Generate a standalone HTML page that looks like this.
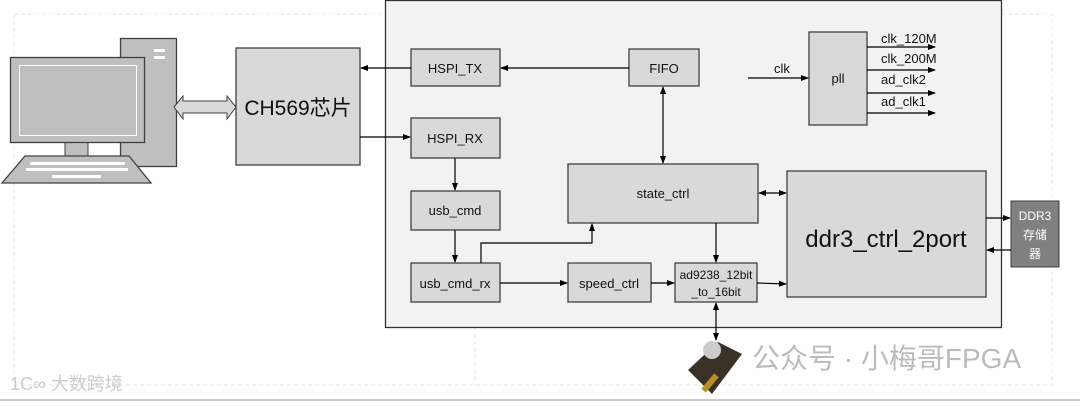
<!DOCTYPE html>
<html><head><meta charset="utf-8"><style>
body{margin:0;background:#fff;}
svg text{font-family:"Liberation Sans","Noto Sans CJK SC",sans-serif;fill:#111;}
</style></head><body>
<svg width="1080" height="401" viewBox="0 0 1080 401" xmlns="http://www.w3.org/2000/svg">
<defs>
<marker id="a" markerWidth="8" markerHeight="8" refX="7" refY="4" orient="auto-start-reverse" markerUnits="userSpaceOnUse"><path d="M0,1 L8,4 L0,7 z" fill="#000"/></marker>
</defs>
<rect x="14" y="14" width="1038" height="371" fill="none" stroke="#e4e4e4" stroke-dasharray="4,3"/>
<line x1="475" y1="327" x2="475" y2="385" stroke="#e4e4e4" stroke-dasharray="4,3"/>
<line x1="0" y1="400" x2="1080" y2="400" stroke="#ccc" stroke-width="2"/>
<rect x="385.5" y="0.5" width="616" height="327" fill="#f2f2f2" stroke="#333" stroke-width="1.3"/>
<rect x="120.5" y="38.5" width="56" height="128" fill="#bfbfbf" stroke="#404040" stroke-width="1.3"/>
<rect x="154" y="49" width="11" height="3" fill="#fff"/><rect x="154" y="56" width="11" height="3" fill="#fff"/>
<rect x="65" y="142" width="23" height="15" fill="#bfbfbf" stroke="#404040"/>
<rect x="10.5" y="57.5" width="134" height="85" fill="#bfbfbf" stroke="#404040" stroke-width="1.3"/>
<rect x="19.5" y="65.5" width="117" height="70" fill="#bfbfbf" stroke="#fff"/>
<path d="M25,156 L129,156 L151,183 L2,183 Z" fill="#bfbfbf" stroke="#404040" stroke-width="1.3"/>
<g fill="#fff"><rect x="30" y="162" width="95" height="3"/><rect x="26" y="168" width="102" height="3"/><rect x="52" y="175" width="49" height="3"/></g>
<path d="M174,107 L183,96 L183,101 L227,101 L227,96 L236,107 L227,119 L227,113 L183,113 L183,119 Z" fill="#d9d9d9" stroke="#404040"/>
<g fill="#d9d9d9" stroke="#404040" stroke-width="1.3">
<rect x="236" y="48" width="124" height="117"/>
<rect x="411" y="49" width="89" height="37"/>
<rect x="411" y="118" width="89" height="40"/>
<rect x="411" y="191" width="89" height="39"/>
<rect x="411" y="263" width="89" height="39"/>
<rect x="629" y="49" width="70" height="37"/>
<rect x="568" y="164" width="190" height="59"/>
<rect x="809" y="32" width="58" height="93"/>
<rect x="787" y="171" width="199" height="126"/>
<rect x="568" y="263" width="83" height="39"/>
<rect x="675" y="263" width="82" height="39"/>
</g>
<rect x="1011" y="201" width="48" height="66" fill="#808080" stroke="#404040"/>
<text x="298" y="115" font-size="21" text-anchor="middle">CH569芯片</text>
<g font-size="13" text-anchor="middle">
<text x="455" y="73">HSPI_TX</text>
<text x="455" y="143">HSPI_RX</text>
<text x="455" y="215">usb_cmd</text>
<text x="455" y="288">usb_cmd_rx</text>
<text x="664" y="73">FIFO</text>
<text x="663" y="198">state_ctrl</text>
<text x="838" y="83">pll</text>
<text x="609" y="288">speed_ctrl</text>
<text x="716" y="279" font-size="12">ad9238_12bit</text>
<text x="716" y="296" font-size="12">_to_16bit</text>
<text x="782" y="73">clk</text>
</g>
<text x="886" y="247" font-size="24" text-anchor="middle">ddr3_ctrl_2port</text>
<g font-size="13"><text x="881" y="43">clk_120M</text><text x="881" y="63">clk_200M</text><text x="881" y="84">ad_clk2</text><text x="881" y="106">ad_clk1</text></g>
<g font-size="12" text-anchor="middle"><text x="1035" y="220" style="fill:#fff">DDR3</text><text x="1035" y="239" style="fill:#fff">存储</text><text x="1035" y="258" style="fill:#fff">器</text></g>
<g stroke="#000" stroke-width="1.2" fill="none">
<line x1="411" y1="68" x2="361" y2="68" marker-end="url(#a)"/>
<line x1="360" y1="137" x2="410" y2="137" marker-end="url(#a)"/>
<line x1="629" y1="68" x2="501" y2="68" marker-end="url(#a)"/>
<line x1="455" y1="158" x2="455" y2="190" marker-end="url(#a)"/>
<line x1="455" y1="230" x2="455" y2="262" marker-end="url(#a)"/>
<polyline points="481,263 481,243 592,243 592,224" marker-end="url(#a)"/>
<line x1="663" y1="87" x2="663" y2="163" marker-start="url(#a)" marker-end="url(#a)"/>
<line x1="759" y1="193" x2="786" y2="193" marker-start="url(#a)" marker-end="url(#a)"/>
<line x1="716" y1="223" x2="716" y2="262" marker-end="url(#a)"/>
<line x1="500" y1="283" x2="567" y2="283" marker-end="url(#a)"/>
<line x1="651" y1="283" x2="674" y2="283" marker-end="url(#a)"/>
<line x1="757" y1="283" x2="786" y2="284" marker-end="url(#a)"/>
<line x1="716" y1="303" x2="716" y2="340" marker-start="url(#a)" marker-end="url(#a)"/>
<line x1="748" y1="78" x2="808" y2="78" marker-end="url(#a)"/>
<line x1="867" y1="47" x2="935" y2="47" marker-end="url(#a)"/>
<line x1="867" y1="70" x2="935" y2="70" marker-end="url(#a)"/>
<line x1="867" y1="93" x2="935" y2="93" marker-end="url(#a)"/>
<line x1="867" y1="113" x2="935" y2="113" marker-end="url(#a)"/>
<line x1="986" y1="218" x2="1010" y2="218" marker-end="url(#a)"/>
<line x1="1011" y1="250" x2="987" y2="250" marker-end="url(#a)"/>
</g>
<path d="M688,370 L718,342 L742,354 L712,394 Z" fill="#3a3226"/>
<rect x="700" y="380" width="20" height="6" fill="#b8902a" transform="rotate(-50 710 383)"/>
<circle cx="712" cy="350" r="9" fill="#ccc"/>
<text x="752" y="368" font-size="28" style="fill:#bbb">公众号 · 小梅哥FPGA</text>
<text x="10" y="390" font-size="18" style="fill:#ccc">1C∞ 大数跨境</text>
</svg>
</body></html>
